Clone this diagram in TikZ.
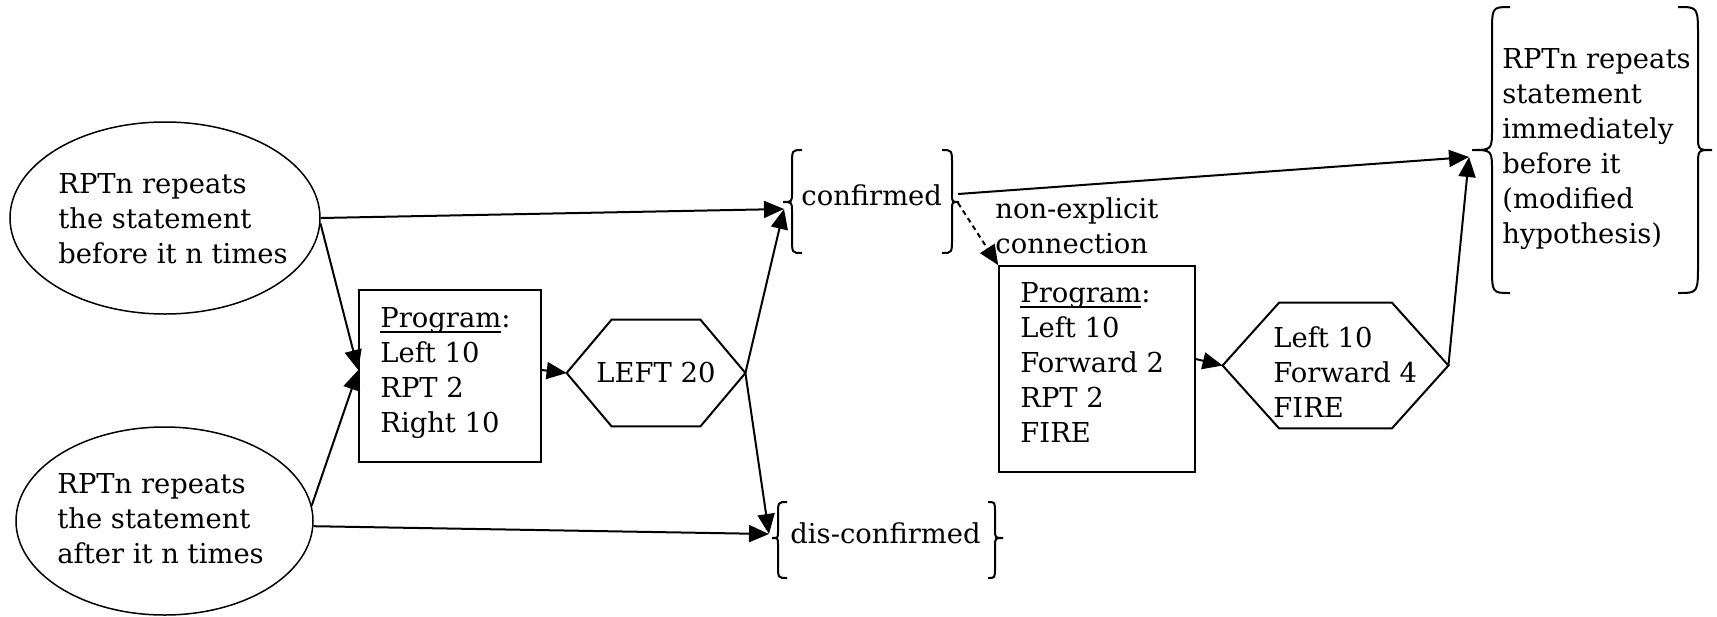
\documentclass[tikz,border=0pt]{standalone}
\usepackage{fontspec}
\setmainfont{DejaVu Serif}
\usetikzlibrary{arrows.meta,calc,shapes.geometric}
\newcommand\mylines[1]{\begin{tabular}[t]{@{}l@{}}#1\end{tabular}}
\newcommand\myul[1]{\setbox0\hbox{#1}\rlap{\rule[-3pt]{\wd0}{0.8pt}}#1}
% left brace: v (vertical x), T, M (tip y), B, h (hook width), t (tip width)
\newcommand\brL[6]{\draw[brc] ({#1+#5},#2) .. controls (#1,#2) .. (#1,{#2+1.5*#5}) -- (#1,{#3-1.1*#6}) .. controls (#1,#3) .. ({#1-#6},#3) .. controls (#1,#3) .. (#1,{#3+1.1*#6}) -- (#1,{#4-1.5*#5}) .. controls (#1,#4) .. ({#1+#5},#4);}
\newcommand\brR[6]{\draw[brc] ({#1-#5},#2) .. controls (#1,#2) .. (#1,{#2+1.5*#5}) -- (#1,{#3-1.1*#6}) .. controls (#1,#3) .. ({#1+#6},#3) .. controls (#1,#3) .. (#1,{#3+1.1*#6}) -- (#1,{#4-1.5*#5}) .. controls (#1,#4) .. ({#1-#5},#4);}
\tikzset{
  txt/.style={font=\fontsize{13.7}{17.5}\selectfont, inner sep=0pt, anchor=base west},
  ln/.style={line width=1pt},
  arr/.style={ln, -{Triangle[length=10pt,width=8.5pt]}},
  brc/.style={line width=1pt},
  boxs/.style={draw, line width=0.8pt, inner sep=0pt},
  ell/.style={draw, ellipse, line width=0.75pt, inner sep=0pt},
  hexs/.style={line width=1pt},
}
\begin{document}
\begin{tikzpicture}[x=0.5pt,y=-0.5pt]
\useasboundingbox (0,0) rectangle (1717,616);
% shapes
\node[ell, minimum width=155pt, minimum height=96pt] (e1) at (165,218) {};
\node[ell, minimum width=148.5pt, minimum height=94pt] (e2) at (164.5,521) {};
\node[boxs, minimum width=91pt, minimum height=86pt] (b1) at (450,376) {};
\node[boxs, minimum width=98pt, minimum height=103pt] (b2) at (1097,369) {};
\node[font=\fontsize{13.7}{17.5}\selectfont, minimum width=89pt, minimum height=53pt, inner sep=0pt] (h1) at (656,373) {LEFT 20};
\node[minimum width=112.5pt, minimum height=62.5pt, inner sep=0pt] (h2) at (1335.5,365.5) {};
\draw[hexs] (h1.west) -- ([xshift=22.5pt]h1.north west) -- ([xshift=-22.5pt]h1.north east) -- (h1.east) -- ([xshift=-22.5pt]h1.south east) -- ([xshift=22.5pt]h1.south west) -- cycle;
\draw[hexs] (h2.west) -- ([xshift=28.25pt]h2.north west) -- ([xshift=-28.25pt]h2.north east) -- (h2.east) -- ([xshift=-28.25pt]h2.south east) -- ([xshift=28.25pt]h2.south west) -- cycle;
% texts
\node[txt] (e1t) at (58,193) {\mylines{RPTn repeats\\the statement\\before it n times}};
\node[txt] (e2t) at (57,493) {\mylines{RPTn repeats\\the statement\\after it n times}};
\node[txt] (b1t) at (380,327) {\mylines{\myul{Program}:\\Left 10\\RPT 2\\Right 10}};
\node[txt] (b2t) at (1020,302) {\mylines{\myul{Program}:\\Left 10\\Forward 2\\RPT 2\\FIRE}};
\node[txt] (h2t) at (1273,347) {\mylines{Left 10\\Forward 4\\FIRE}};
\node[txt] (nex) at (995,218) {\mylines{non-explicit\\connection}};
\node[txt] (conf) at (801,205) {confirmed};
\node[txt] (disc) at (790,543) {dis-confirmed};
\node[txt] (rptt) at (1502,68) {\mylines{RPTn repeats\\statement\\immediately\\before it\\(modified\\hypothesis)}};
% braces
\brL{792}{150}{202}{253}{10}{9}
\brR{952}{150}{202}{253}{10}{7}
\brL{778}{502}{538}{578}{9}{6}
\brR{995}{502}{538}{578}{7}{8}
\brL{1492}{7}{150}{293}{18}{20}
\brR{1698}{7}{150}{293}{20}{14}
% connector end points
\coordinate (cin) at (784,209);
\coordinate (cout) at (958,194);
\coordinate (cdash) at (958,203);
\coordinate (din) at (769,534);
\coordinate (rin) at (1469,157);
\coordinate (bin) at ($(b1.west)+(0,-6)$);
% connectors
\draw[arr] (e1.east) -- (cin);
\draw[arr] (e1.-2) -- (bin);
\draw[arr] (e2.6) -- (bin);
\draw[arr] (e2.-2) -- (din);
\draw[arr] ($(b1.east)+(0,-6)$) -- (h1.west);
\draw[arr] (h1.east) -- (cin);
\draw[arr] (h1.east) -- (din);
\draw[arr] (cout) -- (rin);
\draw[arr, dash pattern=on 2.5pt off 2pt] (cdash) -- (b2.north west);
\draw[arr] ($(b2.east)+(0,-10)$) -- (h2.west);
\draw[arr] (h2.east) -- (rin);
\end{tikzpicture}
\end{document}
